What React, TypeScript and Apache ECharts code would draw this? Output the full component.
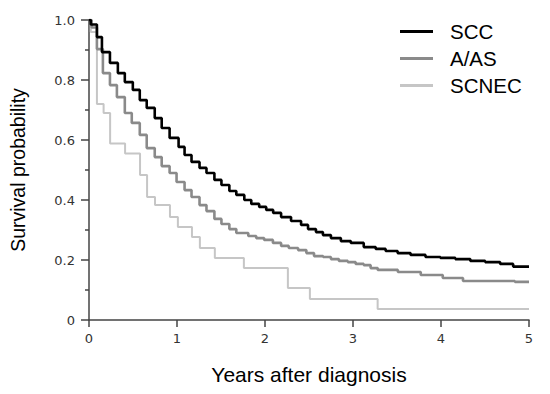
import React, { useEffect, useRef } from "react";
import * as echarts from "echarts";

// Kaplan–Meier step points (time in years, survival probability)
const sccTimes = [0, 0.02, 0.09, 0.147, 0.238, 0.328, 0.407, 0.498, 0.577, 0.656, 0.747, 0.826, 0.916, 1.018, 1.086, 1.165, 1.256, 1.335, 1.425, 1.505, 1.595, 1.674, 1.765, 1.844, 1.934, 2.014, 2.093, 2.183, 2.296, 2.41, 2.489, 2.579, 2.658, 2.749, 2.862, 2.975, 3.122, 3.258, 3.371, 3.507, 3.654, 3.824, 3.993, 4.163, 4.333, 4.502, 4.672, 4.82, 5];
const sccSurv = [1, 0.985, 0.943, 0.893, 0.857, 0.823, 0.793, 0.767, 0.733, 0.707, 0.673, 0.64, 0.607, 0.577, 0.55, 0.527, 0.507, 0.49, 0.467, 0.45, 0.43, 0.417, 0.4, 0.387, 0.377, 0.367, 0.357, 0.343, 0.33, 0.317, 0.303, 0.293, 0.283, 0.273, 0.263, 0.257, 0.243, 0.237, 0.23, 0.223, 0.217, 0.21, 0.207, 0.203, 0.197, 0.193, 0.187, 0.178, 0.178];

const aasTimes = [0, 0.03, 0.09, 0.158, 0.238, 0.317, 0.407, 0.486, 0.577, 0.656, 0.747, 0.826, 0.916, 0.995, 1.086, 1.165, 1.256, 1.335, 1.425, 1.505, 1.595, 1.674, 1.81, 1.9, 1.99, 2.09, 2.183, 2.27, 2.376, 2.47, 2.557, 2.66, 2.749, 2.84, 2.941, 3.03, 3.122, 3.2, 3.281, 3.51, 3.77, 4.02, 4.25, 4.84, 5];
const aasSurv = [1, 0.975, 0.903, 0.823, 0.783, 0.743, 0.69, 0.657, 0.617, 0.573, 0.543, 0.513, 0.49, 0.46, 0.433, 0.41, 0.383, 0.363, 0.337, 0.32, 0.303, 0.29, 0.28, 0.273, 0.267, 0.257, 0.247, 0.24, 0.233, 0.223, 0.213, 0.21, 0.203, 0.197, 0.193, 0.187, 0.183, 0.173, 0.167, 0.16, 0.15, 0.14, 0.13, 0.127, 0.127];

const scnecTimes = [0, 0.02, 0.09, 0.166, 0.24, 0.41, 0.58, 0.66, 0.75, 0.92, 1.01, 1.17, 1.26, 1.43, 1.76, 2.26, 2.51, 3.28, 5];
const scnecSurv = [1, 0.96, 0.72, 0.69, 0.588, 0.555, 0.483, 0.41, 0.383, 0.343, 0.31, 0.277, 0.24, 0.207, 0.173, 0.107, 0.07, 0.037, 0.037];

const seriesNames = ["SCC", "A/AS", "SCNEC"];
const seriesColors = ["#000000", "#8a8a8a", "#c6c6c6"];
const xTickLabels = ["0", "1", "2", "3", "4", "5"];

const zip = (t: number[], s: number[]) => t.map((v, i) => [v, s[i]]);

export default function App() {
  const ref = useRef<HTMLDivElement>(null);
  useEffect(() => {
    if (!ref.current) return;
    const chart = echarts.init(ref.current, undefined, { renderer: "svg" });
    const axisColor = "#444";
    const data = [zip(sccTimes, sccSurv), zip(aasTimes, aasSurv), zip(scnecTimes, scnecSurv)];
    const widths = [2.6, 2.6, 2];
    chart.setOption({
      animation: false,
      backgroundColor: "#ffffff",
      grid: { left: 87, right: 21, top: 20, bottom: 74, containLabel: false },
      legend: {
        orient: "vertical",
        left: 395,
        top: 16,
        itemWidth: 33,
        itemHeight: 3,
        itemGap: 6,
        icon: "rect",
        data: seriesNames,
        textStyle: {
          fontFamily: "Liberation Sans, Arial, sans-serif",
          fontSize: 20.5,
          lineHeight: 20,
          color: "#000",
          padding: [0, 0, 0, 12],
        },
      },
      xAxis: {
        type: "value",
        min: 0,
        max: 5,
        interval: 1,
        name: "Years after diagnosis",
        nameLocation: "middle",
        nameGap: 44,
        nameTextStyle: { fontFamily: "Liberation Sans, Arial, sans-serif", fontSize: 21, color: "#000" },
        axisLine: { show: true, onZero: false, lineStyle: { color: axisColor, width: 1.5 } },
        axisTick: { show: true, length: 7, lineStyle: { color: axisColor, width: 1.5 } },
        axisLabel: {
          margin: 12,
          fontFamily: "DejaVu Sans, Verdana, sans-serif",
          fontSize: 13,
          color: "#333",
          formatter: (v: number) => xTickLabels[Math.round(v)] ?? String(v),
        },
        splitLine: { show: false },
      },
      yAxis: {
        type: "value",
        min: 0,
        max: 1,
        interval: 0.2,
        name: "Survival probability",
        nameLocation: "middle",
        nameGap: 61,
        nameTextStyle: { fontFamily: "Liberation Sans, Arial, sans-serif", fontSize: 19.5, color: "#000" },
        axisLine: { show: true, onZero: false, lineStyle: { color: axisColor, width: 1.5 } },
        axisTick: { show: true, length: 8, lineStyle: { color: axisColor, width: 1.5 } },
        minorTick: { show: true, splitNumber: 2, length: 4, lineStyle: { color: axisColor, width: 1.5 } },
        axisLabel: {
          margin: 14,
          fontFamily: "DejaVu Sans, Verdana, sans-serif",
          fontSize: 13,
          color: "#333",
          formatter: (v: number) => (v === 0 ? "0" : v.toFixed(1)),
        },
        splitLine: { show: false },
        minorSplitLine: { show: false },
      },
      series: seriesNames.map((name, i) => ({
        name,
        type: "line",
        step: "end",
        data: data[i],
        showSymbol: false,
        symbol: "none",
        color: seriesColors[i],
        lineStyle: { color: seriesColors[i], width: widths[i] },
        z: 10 - i,
      })),
    });
    return () => chart.dispose();
  }, []);
  return (
    <div
      ref={ref}
      style={{ position: "fixed", left: 0, top: 0, width: 550, height: 394, background: "#fff" }}
    />
  );
}
